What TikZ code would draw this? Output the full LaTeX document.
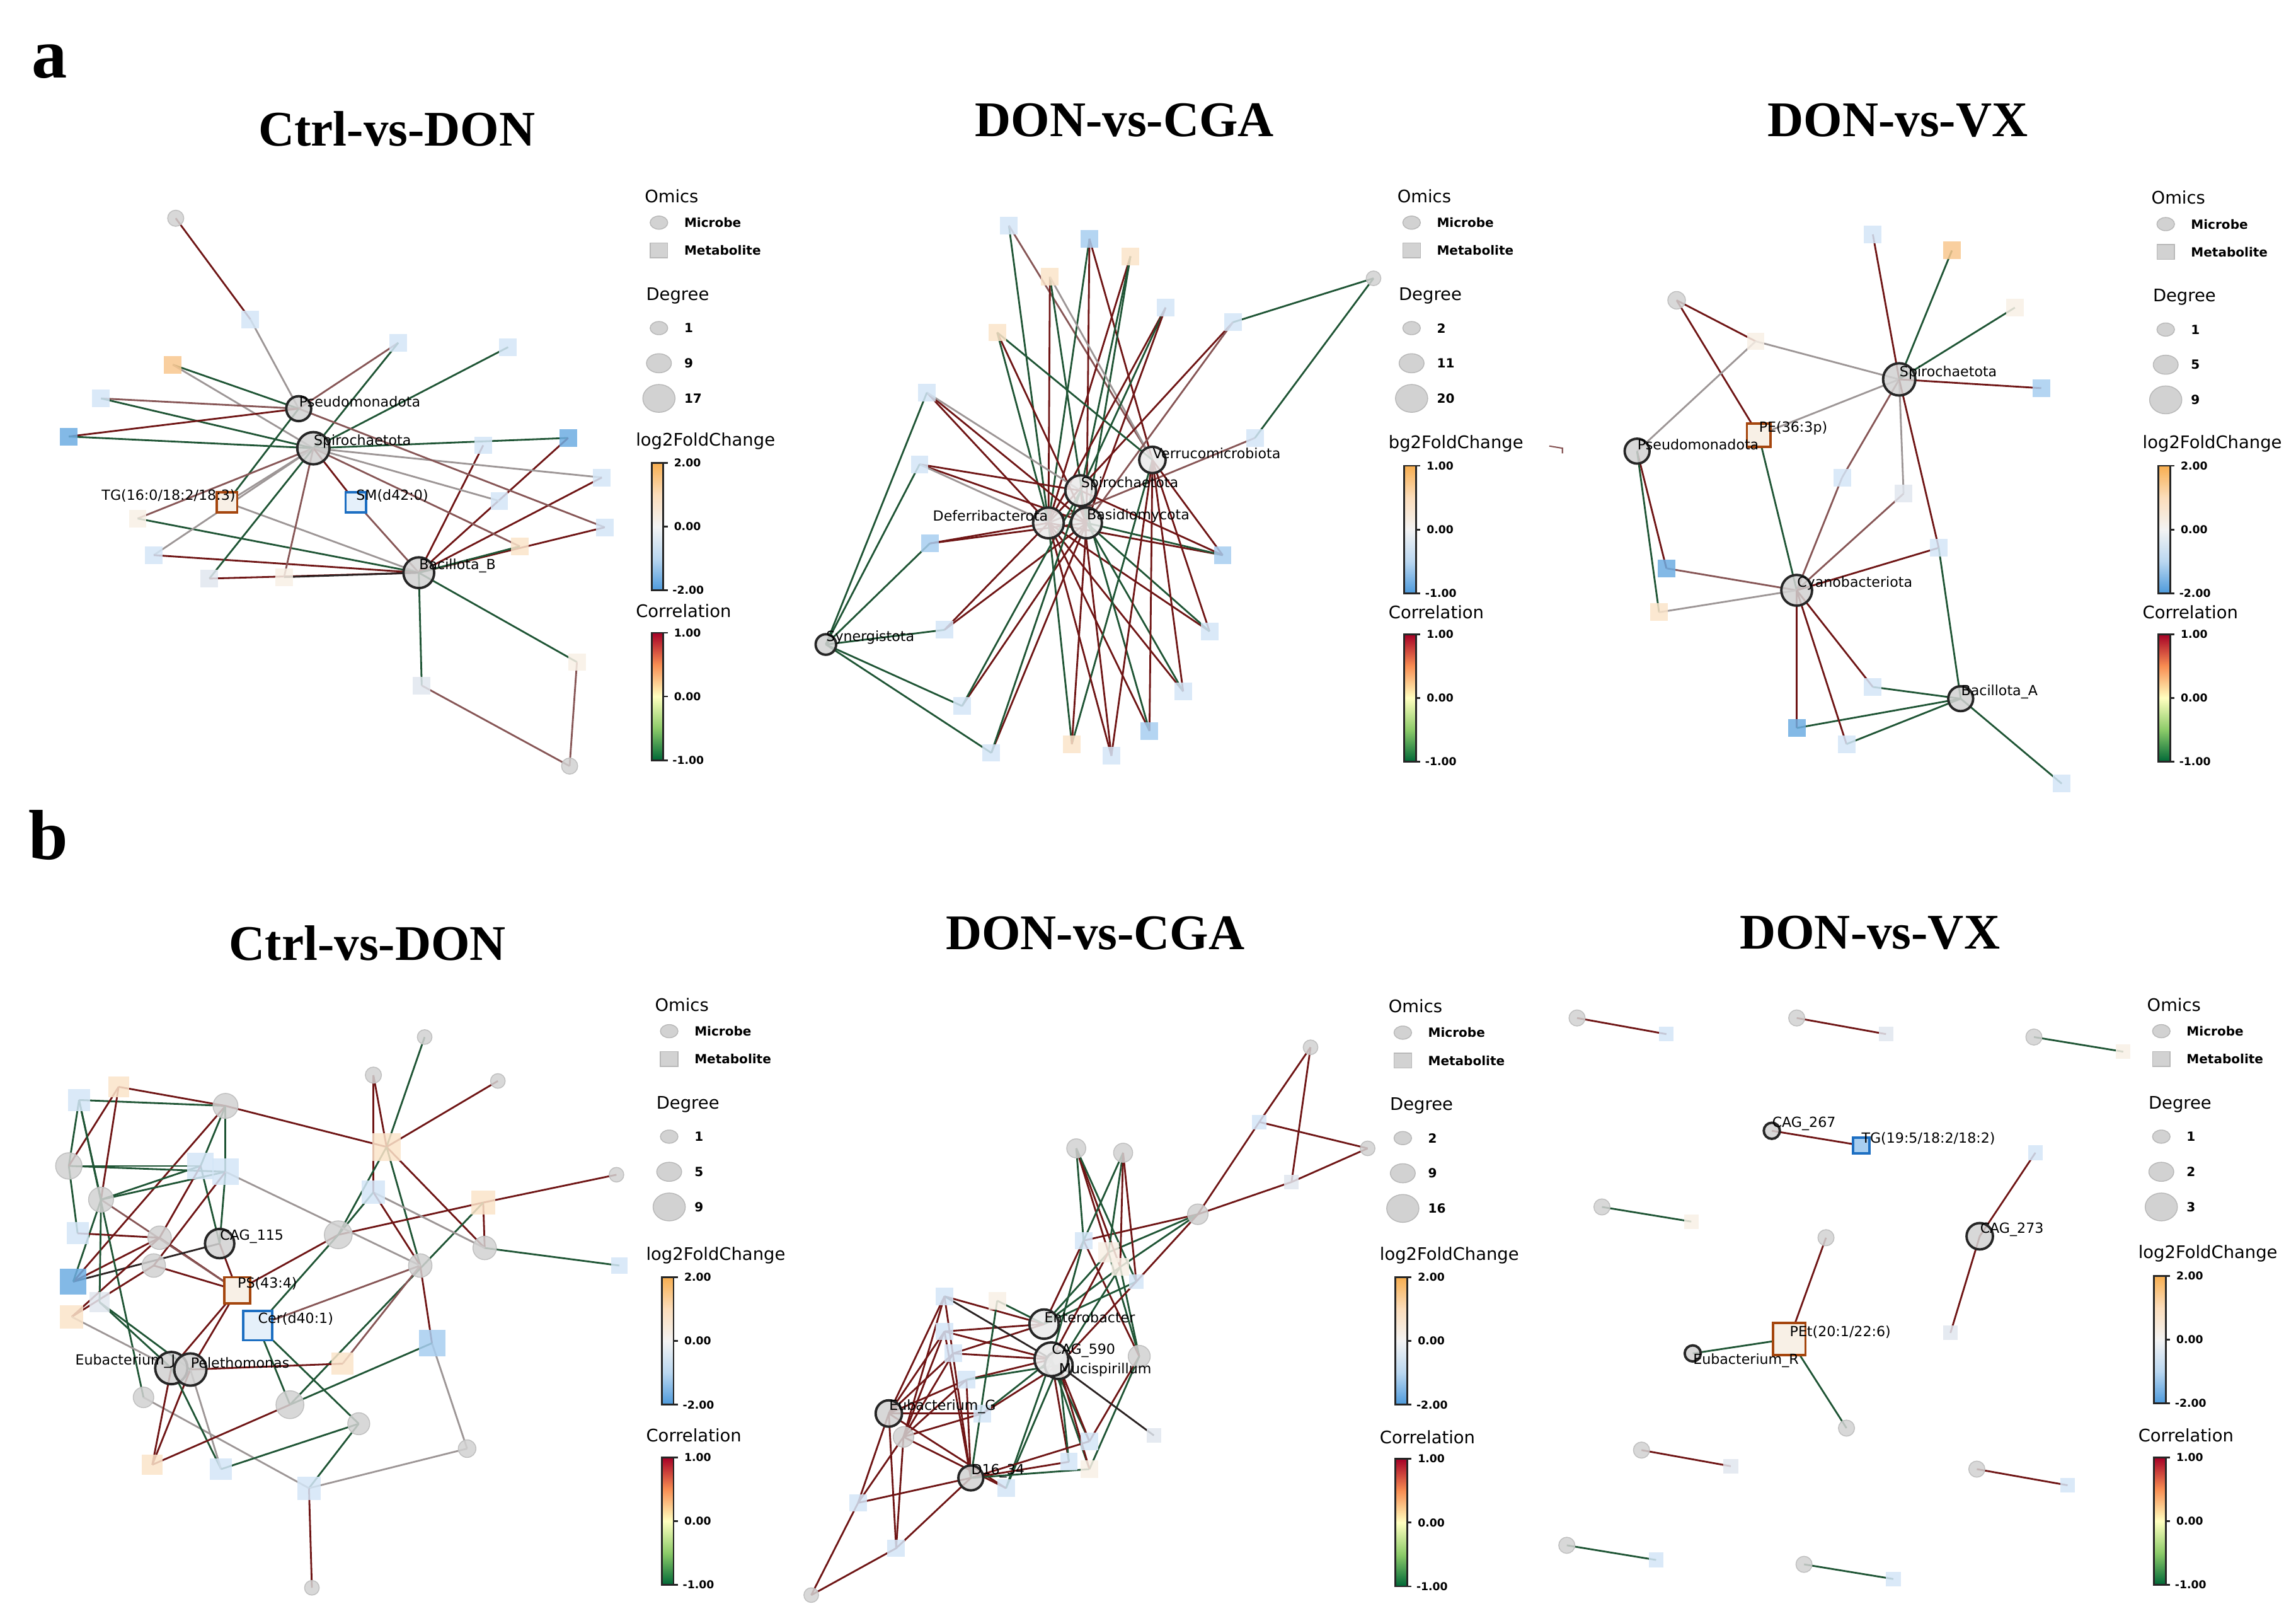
\documentclass[tikz,border=0pt]{standalone}
\usepackage{fontspec}
\setmainfont{Liberation Serif}
\setsansfont{DejaVu Sans}
\usetikzlibrary{positioning,backgrounds}

\definecolor{micfill}{HTML}{D2D2D2}
\definecolor{sqlb}{HTML}{D4E6F7}
\definecolor{sqmb}{HTML}{A8CEF0}
\definecolor{sqdb}{HTML}{6EADE2}
\definecolor{sqlo}{HTML}{FBE4CA}
\definecolor{sqmo}{HTML}{F8C78F}
\definecolor{sqcr}{HTML}{F8F0E6}
\definecolor{sqlg}{HTML}{E1E7EF}
\definecolor{boxup}{HTML}{A5460E}
\definecolor{boxdn}{HTML}{1D6FC2}
\definecolor{eR}{HTML}{6F1515}
\definecolor{eG}{HTML}{1F5535}
\definecolor{eY}{HTML}{9D9696}
\definecolor{eB}{HTML}{875656}
\definecolor{eK}{HTML}{2A2222}
\definecolor{fcup}{HTML}{F7AE50}
\definecolor{fcupm}{HTML}{FBDDBB}
\definecolor{fcmid}{HTML}{F3F3F3}
\definecolor{fcdnm}{HTML}{BAD7F0}
\definecolor{fcdn}{HTML}{4D9ADC}
\definecolor{crtop}{HTML}{A50026}
\definecolor{crupm}{HTML}{F88D52}
\definecolor{crmid}{HTML}{FFFFBF}
\definecolor{crdnm}{HTML}{8CCB69}
\definecolor{crbot}{HTML}{006837}

% legend blocks: prefix, x, y, ...
\newcommand{\omicskey}[6]{%
  \node[keyhead] (#1omics) at ({#2+6},#3) {Omics};
  \filldraw[keymark] ({#2+16},{#3+18}) ellipse (6 and 4.5);
  \node[keyitem] (#1mic) at ({#2+33},{#3+18}) {Microbe};
  \filldraw[keymark] ({#2+10},{#3+32}) rectangle ({#2+22},{#3+42});
  \node[keyitem] (#1met) at ({#2+33},{#3+37}) {Metabolite};
  \node[keyhead] (#1deg) at ({#2+7},{#3+68}) {Degree};
  \filldraw[keymark] ({#2+16},{#3+90}) ellipse (6 and 4.5);
  \node[keyitem] (#1dga) at ({#2+33},{#3+90}) {#4};
  \filldraw[keymark] ({#2+16},{#3+114}) ellipse (8.5 and 6.5);
  \node[keyitem] (#1dgb) at ({#2+33},{#3+114}) {#5};
  \filldraw[keymark] ({#2+16},{#3+138}) ellipse (11 and 9.5);
  \node[keyitem] (#1dgc) at ({#2+33},{#3+138}) {#6};
}
\newcommand{\fcbar}[6]{%
  \node[keyhead] (#1fc) at (#2,#3) {#4};
  \shade[top color=fcup, bottom color=fcmid, middle color=fcupm] ({#2+11},{#3+15}) rectangle ({#2+19},{#3+58.5});
  \shade[top color=fcmid, bottom color=fcdn, middle color=fcdnm] ({#2+11},{#3+58.5}) rectangle ({#2+19},{#3+102});
  \draw[barframe] ({#2+11},{#3+15}) rectangle ({#2+19},{#3+102});
  \draw[barframe] ({#2+19},{#3+15}) -- ++(3,0) ({#2+19},{#3+58.5}) -- ++(3,0) ({#2+19},{#3+102}) -- ++(3,0);
  \node[keytick] (#1fca) at ({#2+26},{#3+15}) {#5};
  \node[keytick] (#1fcb) at ({#2+26},{#3+58.5}) {0.00};
  \node[keytick] (#1fcc) at ({#2+25},{#3+102}) {#6};
}
\newcommand{\corrbar}[3]{%
  \node[keyhead] (#1cr) at (#2,#3) {Correlation};
  \shade[top color=crtop, bottom color=crmid, middle color=crupm] ({#2+11},{#3+15}) rectangle ({#2+19},{#3+58.5});
  \shade[top color=crmid, bottom color=crbot, middle color=crdnm] ({#2+11},{#3+58.5}) rectangle ({#2+19},{#3+102});
  \draw[barframe] ({#2+11},{#3+15}) rectangle ({#2+19},{#3+102});
  \draw[barframe] ({#2+19},{#3+15}) -- ++(3,0) ({#2+19},{#3+58.5}) -- ++(3,0) ({#2+19},{#3+102}) -- ++(3,0);
  \node[keytick] (#1cra) at ({#2+26},{#3+15}) {1.00};
  \node[keytick] (#1crb) at ({#2+26},{#3+58.5}) {0.00};
  \node[keytick] (#1crc) at ({#2+25},{#3+102}) {-1.00};
}

\begin{document}
\begin{tikzpicture}[x=0.2324mm, y=-0.2324mm,
    mic/.style={circle, draw=black!25, fill=micfill, line width=0.4pt, inner sep=0pt,
                minimum size=#1*0.2324mm, fill opacity=0.85},
    hub/.style={circle, draw=black!85, fill=micfill, line width=1.1pt, inner sep=0pt,
                minimum size=#1*0.2324mm, fill opacity=0.85},
    met/.style={rectangle, draw=none, inner sep=0pt, minimum size=#1*0.2324mm, fill opacity=0.85},
    metbox/.style={rectangle, line width=1.1pt, inner sep=0pt, minimum size=#1*0.2324mm},
    edge/.style={line width=0.8pt},
    lab/.style={font=\sffamily\fontsize{6.3}{7}\selectfont, inner sep=0pt, yshift=1.1mm},
    paneltitle/.style={font=\rmfamily\bfseries\fontsize{22.5}{26}\selectfont, inner sep=0pt},
    panellab/.style={font=\rmfamily\bfseries\fontsize{32}{36}\selectfont, inner sep=0pt},
    keyhead/.style={font=\sffamily\fontsize{7.8}{9}\selectfont, anchor=west, inner sep=0pt},
    keyitem/.style={font=\sffamily\bfseries\fontsize{5.7}{7}\selectfont, anchor=west, inner sep=0pt},
    keytick/.style={font=\sffamily\bfseries\fontsize{4.9}{6}\selectfont, anchor=west, inner sep=0pt},
    keymark/.style={fill=micfill, draw=black!28, line width=0.4pt},
    barframe/.style={draw=black!85, line width=0.8pt}
  ]
  \useasboundingbox (0,0) rectangle (1568,1103);
  \begin{pgfonlayer}{background}
    \fill[white] (0,0) rectangle (1568,1103);
  \end{pgfonlayer}

  % panel letters and titles
  \node[panellab] (pa) at (34,42) {a};
  \node[panellab] (pb) at (33,570) {b};
  \node[paneltitle] (a1title) at (271,88) {Ctrl-vs-DON};
  \node[paneltitle] (a2title) at (768,82) {DON-vs-CGA};
  \node[paneltitle] (a3title) at (1296,82) {DON-vs-VX};
  \node[paneltitle] (b1title) at (251,644) {Ctrl-vs-DON};
  \node[paneltitle] (b2title) at (748,637) {DON-vs-CGA};
  \node[paneltitle] (b3title) at (1277,637) {DON-vs-VX};

  % a, Ctrl-vs-DON
  \foreach \n/\x/\y/\col in {a1s1/171/218/sqlb, a1s2/272/234/sqlb, a1s3/347/237/sqlb, a1s4/118/249/sqmo,
      a1s5/69/272/sqlb, a1s6/47/298/sqdb, a1s7/330/304/sqlb, a1s8/388/299/sqdb, a1s9/411/326/sqlb,
      a1s10/341/342/sqlb, a1s11/94/354/sqcr, a1s12/413/360/sqlb, a1s13/355/373/sqlo, a1s14/105/379/sqlb,
      a1s15/143/395/sqlg, a1s16/194/394/sqcr, a1s17/394/452/sqcr, a1s18/288/468/sqlg}
    \node[met=12, fill=\col] (\n) at (\x,\y) {};
  \node[metbox=14, draw=boxup, fill=sqcr] (a1tg) at (155,343) {};
  \node[metbox=14, draw=boxdn, fill=sqlb!60] (a1sm) at (243,343) {};
  \node[mic=11] (a1top) at (120,149) {};
  \node[mic=11] (a1bot) at (389,523) {};
  \node[hub=17] (a1pse) at (204,279) {};
  \node[hub=22] (a1spi) at (214,306) {};
  \node[hub=21] (a1bac) at (286,391) {};
  \node[lab, right=0pt of a1pse.center] (a1pseL) {Pseudomonadota};
  \node[lab, right=0pt of a1spi.center] (a1spiL) {Spirochaetota};
  \node[lab, right=0pt of a1bac.center] (a1bacL) {Bacillota\_B};
  \node[lab, left=-1.4mm of a1tg.center] (a1tgL) {TG(16:0/18:2/18:3)};
  \node[lab, right=0pt of a1sm.center] (a1smL) {SM(d42:0)};
  \begin{pgfonlayer}{background}
    \foreach \p/\q/\col in {a1top/a1s1/eR, a1s1/a1pse/eY, a1s2/a1pse/eB, a1s2/a1spi/eG, a1s3/a1spi/eG,
        a1s4/a1pse/eG, a1s4/a1spi/eY, a1s5/a1pse/eB, a1s5/a1spi/eG, a1s6/a1pse/eR, a1s6/a1spi/eG,
        a1s7/a1bac/eR, a1s8/a1spi/eG, a1s8/a1bac/eR, a1s9/a1spi/eY, a1s9/a1bac/eR, a1s10/a1spi/eY,
        a1s12/a1pse/eB, a1s12/a1bac/eR, a1s13/a1spi/eB, a1s13/a1bac/eG, a1sm/a1spi/eR, a1sm/a1bac/eB,
        a1tg/a1pse/eG, a1tg/a1spi/eY, a1tg/a1bac/eY, a1s11/a1spi/eB, a1s11/a1bac/eG, a1s14/a1spi/eY,
        a1s14/a1bac/eR, a1s15/a1spi/eG, a1s15/a1bac/eR, a1s16/a1spi/eB, a1s16/a1bac/eK,
        a1s17/a1bac/eG, a1s18/a1bac/eG, a1s17/a1bot/eB, a1s18/a1bot/eB}
      \draw[edge, draw=\col] (\p.center) -- (\q.center);
  \end{pgfonlayer}
  \omicskey{a1}{434}{134}{1}{9}{17}
  \fcbar{a1}{434}{301}{log2FoldChange}{2.00}{-2.00}
  \corrbar{a1}{434}{417}

  % a, DON-vs-CGA
  \foreach \n/\x/\y/\col in {a2q1/689/154/sqlb, a2q2/744/163/sqmb, a2q3/772/175/sqlo, a2q4/717/189/sqlo,
      a2q5/796/210/sqlb, a2q6/842/220/sqlb, a2q7/681/227/sqlo, a2q8/633/268/sqlb, a2q9/857/299/sqlb,
      a2q10/628/317/sqlb, a2q11/635/371/sqmb, a2q12/835/379/sqmb, a2q13/645/430/sqlb, a2q14/826/431/sqlb,
      a2q15/657/482/sqlb, a2q16/808/472/sqlb, a2q17/785/499/sqmb, a2q18/732/508/sqlo, a2q19/759/516/sqlb,
      a2q20/677/514/sqlb}
    \node[met=12, fill=\col] (\n) at (\x,\y) {};
  \node[mic=10] (a2top) at (938,190) {};
  \node[hub=14] (a2syn) at (564,440) {};
  \node[hub=18, fill=micfill!45] (a2ver) at (787,314) {};
  \node[hub=21, fill=micfill!45] (a2spi) at (738,335) {};
  \node[hub=21, fill=micfill!45] (a2def) at (716,357) {};
  \node[hub=21, fill=micfill!45] (a2bas) at (742,357) {};
  \node[lab, right=0pt of a2ver.center] (a2verL) {Verrucomicrobiota};
  \node[lab, right=0pt of a2spi.center] (a2spiL) {Spirochaetota};
  \node[lab, left=0pt of a2def.center] (a2defL) {Deferribacterota};
  \node[lab, right=0pt of a2bas.center] (a2basL) {Basidiomycota};
  \node[lab, right=0pt of a2syn.center] (a2synL) {Synergistota};
  \begin{pgfonlayer}{background}
    \foreach \p/\q/\col in {a2q1/a2def/eG, a2q1/a2ver/eB, a2q2/a2def/eG, a2q2/a2bas/eR, a2q2/a2ver/eR,
        a2q3/a2def/eR, a2q3/a2spi/eG, a2q3/a2bas/eG, a2q4/a2def/eR, a2q4/a2bas/eG, a2q4/a2ver/eY,
        a2q5/a2def/eR, a2q5/a2spi/eG, a2q5/a2bas/eR, a2q6/a2def/eR, a2q6/a2bas/eB, a2q6/a2top/eG,
        a2q7/a2bas/eR, a2q7/a2def/eG, a2q7/a2ver/eG, a2q8/a2bas/eR, a2q8/a2def/eR, a2q8/a2spi/eY,
        a2q8/a2syn/eG, a2q9/a2def/eB, a2q9/a2top/eG, a2q10/a2bas/eR, a2q10/a2spi/eR, a2q10/a2def/eY,
        a2q10/a2syn/eG, a2q11/a2def/eR, a2q11/a2bas/eR, a2q11/a2syn/eG, a2q12/a2def/eR, a2q12/a2bas/eG,
        a2q12/a2ver/eR, a2q12/a2spi/eR, a2q13/a2bas/eR, a2q13/a2def/eR, a2q13/a2syn/eG, a2q14/a2def/eR,
        a2q14/a2ver/eR, a2q14/a2bas/eG, a2q15/a2bas/eR, a2q15/a2spi/eG, a2q15/a2syn/eG, a2q16/a2def/eR,
        a2q16/a2bas/eG, a2q16/a2ver/eR, a2q17/a2def/eR, a2q17/a2spi/eG, a2q17/a2ver/eR, a2q18/a2ver/eG,
        a2q18/a2def/eG, a2q18/a2bas/eR, a2q19/a2def/eR, a2q19/a2spi/eR, a2q19/a2ver/eR, a2q20/a2bas/eR,
        a2q20/a2spi/eG, a2q20/a2syn/eG}
      \draw[edge, draw=\col] (\p.center) -- (\q.center);
  \end{pgfonlayer}
  \draw[eB, line width=0.6pt] (1058,304.5) -- (1067,306) -- (1067,309.5);
  \omicskey{a2}{948}{134}{2}{11}{20}
  \fcbar{a2}{948}{303}{bg2FoldChange}{1.00}{-1.00}
  \corrbar{a2}{948}{418}

  % a, DON-vs-VX
  \foreach \n/\x/\y/\col in {a3r1/1279/160/sqlb, a3r2/1333/171/sqmo, a3r3/1376/210/sqcr, a3r4/1394/265/sqmb,
      a3r5/1199/233/sqcr, a3r6/1258/326/sqlb, a3r7/1300/337/sqlg, a3r8/1324/374/sqlb, a3r9/1138/388/sqdb,
      a3r10/1133/418/sqlo, a3r11/1279/469/sqlb, a3r12/1227/497/sqdb, a3r13/1261/508/sqlb, a3r14/1408/535/sqlb}
    \node[met=12, fill=\col] (\n) at (\x,\y) {};
  \node[metbox=16, draw=boxup, fill=sqcr] (a3pe) at (1201,297) {};
  \node[mic=12] (a3top) at (1145,205) {};
  \node[hub=22] (a3spi) at (1297,259) {};
  \node[hub=17] (a3pse) at (1118,308) {};
  \node[hub=21] (a3cya) at (1227,403) {};
  \node[hub=17] (a3bac) at (1339,477) {};
  \node[lab, right=0pt of a3spi.center] (a3spiL) {Spirochaetota};
  \node[lab, right=0pt of a3pse.center] (a3pseL) {Pseudomonadota};
  \node[lab, right=0pt of a3pe.center] (a3peL) {PE(36:3p)};
  \node[lab, right=0pt of a3cya.center] (a3cyaL) {Cyanobacteriota};
  \node[lab, right=0pt of a3bac.center] (a3bacL) {Bacillota\_A};
  \begin{pgfonlayer}{background}
    \foreach \p/\q/\col in {a3top/a3r5/eR, a3top/a3pe/eR, a3r5/a3spi/eY, a3r5/a3pse/eY, a3r1/a3spi/eR,
        a3r2/a3spi/eG, a3r3/a3spi/eG, a3r4/a3spi/eR, a3pe/a3spi/eY, a3pe/a3cya/eG, a3r6/a3spi/eB,
        a3r6/a3cya/eB, a3r7/a3spi/eY, a3r7/a3cya/eB, a3r8/a3spi/eR, a3r8/a3cya/eR, a3r8/a3bac/eG,
        a3r9/a3pse/eR, a3r10/a3pse/eG, a3r9/a3cya/eB, a3r10/a3cya/eY, a3r11/a3cya/eR, a3r11/a3bac/eG,
        a3r12/a3cya/eR, a3r12/a3bac/eG, a3r13/a3cya/eR, a3r13/a3bac/eG, a3r14/a3bac/eG}
      \draw[edge, draw=\col] (\p.center) -- (\q.center);
  \end{pgfonlayer}
  \omicskey{a3}{1463}{135}{1}{5}{9}
  \fcbar{a3}{1463}{303}{log2FoldChange}{2.00}{-2.00}
  \corrbar{a3}{1463}{418}

  % b, Ctrl-vs-DON
  \foreach \n/\x/\y/\s/\col in {b1d1/81/742/14/sqlo, b1d2/54/751/15/sqlb, b1d3/137/796/18/sqlb,
      b1d4/154/800/18/sqlb, b1d5/264/783/19/sqlo, b1d6/255/814/16/sqlb, b1d7/330/821/16/sqlo,
      b1d8/53/842/15/sqlb, b1d9/50/875/18/sqdb, b1d10/49/899/16/sqlo, b1d11/68/889/14/sqlg,
      b1d12/423/864/11/sqlb, b1d13/295/917/18/sqmb, b1d14/234/931/15/sqlo, b1d15/104/1000/14/sqlo,
      b1d16/151/1003/15/sqlb, b1d17/211/1016/16/sqlb}
    \node[met=\s, fill=\col] (\n) at (\x,\y) {};
  \foreach \n/\x/\y/\s in {b1c1/290/708/10, b1c2/255/734/11, b1c3/340/738/10, b1c4/154/755/17,
      b1c5/47/796/18, b1c6/69/819/17, b1c7/421/802/10, b1c8/231/843/19, b1c9/109/845/16,
      b1c10/105/864/16, b1c11/331/852/16, b1c12/287/864/16, b1c13/98/954/14, b1c14/198/959/19,
      b1c15/245/972/15, b1c16/319/989/12, b1c17/213/1084/10}
    \node[mic=\s] (\n) at (\x,\y) {};
  \node[metbox=18, draw=boxup, fill=sqcr] (b1ps) at (162,881) {};
  \node[metbox=20, draw=boxdn, fill=sqlb!60] (b1cer) at (176,905) {};
  \node[hub=20] (b1cag) at (150,849) {};
  \node[hub=22] (b1eubj) at (117,934) {};
  \node[hub=22] (b1pel) at (130,935) {};
  \node[lab, right=0pt of b1cag.center] (b1cagL) {CAG\_115};
  \node[lab, right=0pt of b1ps.center] (b1psL) {PS(43:4)};
  \node[lab, right=0pt of b1cer.center] (b1cerL) {Cer(d40:1)};
  \node[lab, left=-0.7mm of b1eubj.center] (b1eubjL) {Eubacterium\_J};
  \node[lab, right=0pt of b1pel.center] (b1pelL) {Pelethomonas};
  \begin{pgfonlayer}{background}
    \foreach \p/\q/\col in {b1c1/b1d5/eG, b1c2/b1d5/eR, b1c3/b1d5/eR, b1c4/b1d5/eR, b1c2/b1d6/eR,
        b1d5/b1c11/eR, b1d5/b1c12/eG, b1d5/b1c8/eG, b1c8/b1d7/eR, b1d7/b1c7/eR, b1d7/b1c11/eR,
        b1d7/b1c14/eG, b1c11/b1d12/eG, b1d6/b1c11/eY, b1d6/b1c8/eG, b1d6/b1c12/eR, b1c12/b1d13/eR,
        b1d13/b1c16/eY, b1d13/b1c14/eG, b1d17/b1c15/eG, b1d17/b1c16/eY, b1d17/b1c17/eR, b1d17/b1c13/eY,
        b1ps/b1c8/eR, b1cer/b1c8/eG, b1cer/b1c15/eG, b1cer/b1c14/eG, b1cer/b1c12/eB, b1ps/b1cag/eR,
        b1ps/b1eubj/eR, b1ps/b1pel/eR, b1ps/b1c9/eR, b1ps/b1c10/eR, b1ps/b1c6/eB, b1pel/b1d14/eR,
        b1eubj/b1d15/eR, b1pel/b1d15/eR, b1eubj/b1d16/eG, b1pel/b1d16/eY, b1d15/b1c14/eR,
        b1d16/b1c15/eG, b1d14/b1c12/eB, b1cag/b1d9/eK, b1cag/b1d3/eG, b1cag/b1d4/eG, b1d9/b1c9/eR,
        b1d9/b1c4/eR, b1d9/b1c6/eG, b1c5/b1d3/eG, b1c5/b1d4/eG, b1c5/b1d2/eG, b1c5/b1d8/eG,
        b1d2/b1c4/eG, b1d1/b1c4/eR, b1d1/b1c5/eR, b1d1/b1c6/eR, b1d2/b1c6/eG, b1d2/b1c13/eG,
        b1c4/b1d3/eG, b1c4/b1d4/eG, b1c6/b1d3/eG, b1c6/b1d4/eG, b1d8/b1c9/eR, b1d10/b1c9/eR,
        b1d10/b1c10/eR, b1d10/b1eubj/eY, b1d3/b1c9/eR, b1d4/b1c10/eR, b1d4/b1c12/eY,
        b1eubj/b1d11/eG, b1pel/b1d11/eG, b1d11/b1c6/eG}
      \draw[edge, draw=\col] (\p.center) -- (\q.center);
  \end{pgfonlayer}
  \omicskey{b1}{441}{686}{1}{5}{9}
  \fcbar{b1}{441}{857}{log2FoldChange}{2.00}{-2.00}
  \corrbar{b1}{441}{980}

  % b, DON-vs-CGA
  \foreach \n/\x/\y/\s/\col in {b2f1/860/766/10/sqlb, b2f2/882/807/10/sqlg, b2f3/740/847/12/sqlb,
      b2f4/757/855/14/sqcr, b2f5/765/865/12/sqcr, b2f6/776/875/10/sqlb, b2f7/645/885/12/sqlb,
      b2f8/681/888/12/sqcr, b2f9/645/909/12/sqlb, b2f10/651/924/12/sqlb, b2f11/660/942/12/sqlb,
      b2f12/671/965/12/sqlb, b2f13/788/980/10/sqlg, b2f14/744/984/12/sqlb, b2f15/730/998/12/sqlb,
      b2f16/744/1003/12/sqcr, b2f17/687/1016/12/sqlb, b2f18/586/1026/12/sqlb, b2f19/612/1057/12/sqlb}
    \node[met=\s, fill=\col] (\n) at (\x,\y) {};
  \foreach \n/\x/\y/\s in {b2e1/895/715/10, b2e2/934/784/10, b2e3/735/784/13, b2e4/767/787/13,
      b2e5/818/829/14, b2e6/778/926/15, b2e7/617/981/14, b2e8/554/1089/10}
    \node[mic=\s] (\n) at (\x,\y) {};
  \node[hub=19, fill=micfill!45] (b2muc) at (723,932) {};
  \node[hub=23, fill=micfill!45] (b2cag) at (718,928) {};
  \node[hub=20, fill=micfill!45] (b2ent) at (713,904) {};
  \node[hub=18] (b2eubg) at (607,965) {};
  \node[hub=17] (b2d16) at (663,1009) {};
  \node[lab, right=0pt of b2ent.center] (b2entL) {Enterobacter};
  \node[lab, right=0pt of b2cag.center, yshift=0.3mm] (b2cagL) {CAG\_590};
  \node[lab, right=0pt of b2muc.center, yshift=-1.8mm] (b2mucL) {Mucispirillum};
  \node[lab, right=0pt of b2eubg.center] (b2eubgL) {Eubacterium\_G};
  \node[lab, right=0pt of b2d16.center] (b2d16L) {D16\_34};
  \begin{pgfonlayer}{background}
    \foreach \p/\q/\col in {b2e1/b2f1/eR, b2e1/b2f2/eR, b2e2/b2f1/eR, b2e2/b2f2/eR, b2f1/b2e5/eR,
        b2f2/b2e5/eR, b2e5/b2f3/eR, b2e5/b2f4/eG, b2e5/b2f5/eG, b2e5/b2f6/eR, b2e3/b2f3/eG,
        b2e3/b2f4/eR, b2e3/b2f5/eR, b2e3/b2f6/eG, b2e4/b2f3/eG, b2e4/b2f4/eG, b2e4/b2f5/eR,
        b2e4/b2f6/eR, b2e6/b2f4/eG, b2e6/b2f5/eG, b2e6/b2f3/eR, b2e6/b2f14/eR, b2e6/b2f16/eG,
        b2ent/b2f3/eR, b2ent/b2f4/eG, b2ent/b2f7/eR, b2ent/b2f8/eG, b2ent/b2f9/eR, b2ent/b2f5/eG,
        b2ent/b2f6/eG, b2ent/b2f10/eR, b2cag/b2f7/eK, b2cag/b2f9/eR, b2cag/b2f10/eR, b2cag/b2f11/eR,
        b2cag/b2f12/eG, b2cag/b2f14/eG, b2cag/b2f15/eR, b2cag/b2f16/eG, b2cag/b2f17/eG, b2cag/b2f3/eG,
        b2cag/b2f4/eR, b2muc/b2f13/eK, b2muc/b2f14/eR, b2muc/b2f15/eG, b2muc/b2f16/eR, b2muc/b2f17/eG,
        b2muc/b2f12/eR, b2muc/b2f11/eG, b2muc/b2f5/eG, b2muc/b2f6/eR, b2eubg/b2f7/eR, b2eubg/b2f9/eR,
        b2eubg/b2f10/eR, b2eubg/b2f11/eR, b2eubg/b2f12/eR, b2eubg/b2f17/eR, b2eubg/b2f18/eR,
        b2eubg/b2f19/eR, b2e7/b2f9/eR, b2e7/b2f10/eR, b2e7/b2f11/eR, b2e7/b2f12/eR, b2e7/b2f17/eR,
        b2e7/b2f18/eR, b2e7/b2f19/eR, b2e7/b2f7/eR, b2d16/b2f7/eR, b2d16/b2f9/eR, b2d16/b2f11/eR,
        b2d16/b2f14/eR, b2d16/b2f15/eR, b2d16/b2f16/eG, b2d16/b2f18/eR, b2d16/b2f8/eG, b2d16/b2f19/eR,
        b2e8/b2f18/eR, b2e8/b2f19/eR}
      \draw[edge, draw=\col] (\p.center) -- (\q.center);
  \end{pgfonlayer}
  \omicskey{b2}{942}{687}{2}{9}{16}
  \fcbar{b2}{942}{857}{log2FoldChange}{2.00}{-2.00}
  \corrbar{b2}{942}{981}

  % b, DON-vs-VX
  \foreach \n/\x/\y/\col in {b3k1/1138/706/sqlb, b3k2/1288/706/sqlg, b3k3/1450/718/sqcr, b3k4/1155/834/sqcr,
      b3k5/1390/787/sqlb, b3k6/1332/910/sqlg, b3k7/1182/1001/sqlg, b3k8/1412/1014/sqlb,
      b3k9/1131/1065/sqlb, b3k10/1293/1078/sqlb}
    \node[met=10, fill=\col] (\n) at (\x,\y) {};
  \foreach \n/\x/\y in {b3h1/1077/695, b3h2/1227/695, b3h3/1389/708, b3h4/1094/824, b3h5/1247/845,
      b3h6/1261/975, b3h7/1121/990, b3h8/1350/1003, b3h9/1070/1055, b3h10/1232/1068}
    \node[mic=11] (\n) at (\x,\y) {};
  \node[metbox=11, draw=boxdn, fill=sqmb] (b3tg) at (1271,782) {};
  \node[metbox=22, draw=boxup, fill=sqcr] (b3pet) at (1222,914) {};
  \node[hub=11] (b3c267) at (1210,772) {};
  \node[hub=18] (b3c273) at (1352,844) {};
  \node[hub=11] (b3eubr) at (1156,924) {};
  \node[lab, right=0pt of b3c267.center] (b3c267L) {CAG\_267};
  \node[lab, right=0pt of b3tg.center] (b3tgL) {TG(19:5/18:2/18:2)};
  \node[lab, right=0pt of b3c273.center] (b3c273L) {CAG\_273};
  \node[lab, right=0pt of b3pet.center] (b3petL) {PEt(20:1/22:6)};
  \node[lab, right=0pt of b3eubr.center, yshift=-2.2mm] (b3eubrL) {Eubacterium\_R};
  \begin{pgfonlayer}{background}
    \foreach \p/\q/\col in {b3h1/b3k1/eR, b3h2/b3k2/eR, b3h3/b3k3/eG, b3c267/b3tg/eR, b3h4/b3k4/eG,
        b3h5/b3pet/eR, b3eubr/b3pet/eG, b3pet/b3h6/eG, b3k5/b3c273/eR, b3c273/b3k6/eR,
        b3h7/b3k7/eR, b3h8/b3k8/eR, b3h9/b3k9/eG, b3h10/b3k10/eG}
      \draw[edge, draw=\col] (\p.center) -- (\q.center);
  \end{pgfonlayer}
  \omicskey{b3}{1460}{686}{1}{2}{3}
  \fcbar{b3}{1460}{856}{log2FoldChange}{2.00}{-2.00}
  \corrbar{b3}{1460}{980}
\end{tikzpicture}
\end{document}
